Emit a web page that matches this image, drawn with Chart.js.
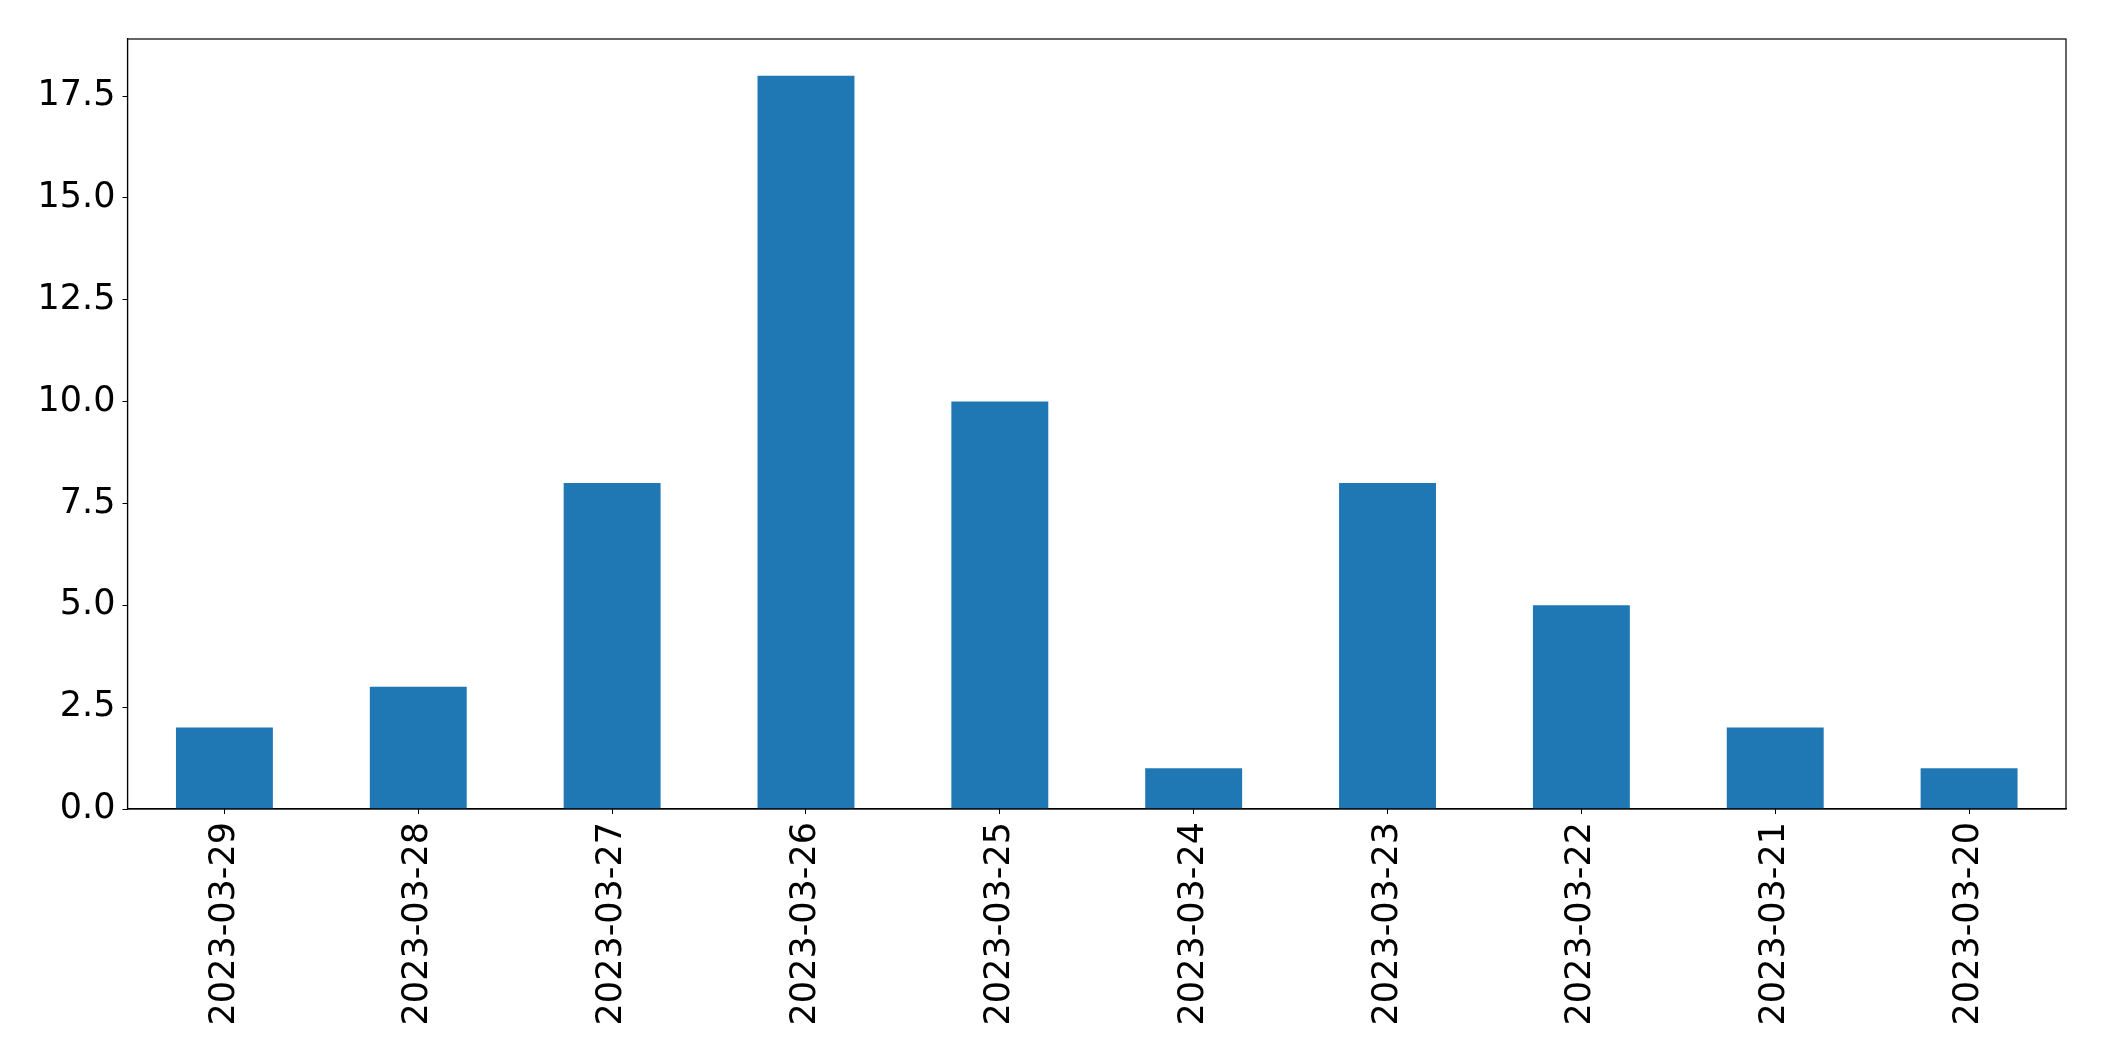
<!DOCTYPE html>
<html lang="en">
<head>
  <meta charset="UTF-8" />
  <title>Daily counts</title>
  <style>
    * {
      margin: 0;
      padding: 0;
      box-sizing: border-box;
    }

    body {
      background-color: #fff;
      width: 2104px;
      height: 1061px;
      overflow: hidden;
    }

    .chart-box {
      position: relative;
      width: 2104px;
      height: 1061px;
    }
  </style>
</head>
<body>
  <div class="chart-box">
    <canvas id="countChart"></canvas>
  </div>

  <script src="https://cdn.jsdelivr.net/npm/chart.js"></script>
  <script>
    const dates = ["2023-03-29", "2023-03-28", "2023-03-27", "2023-03-26", "2023-03-25",
                   "2023-03-24", "2023-03-23", "2023-03-22", "2023-03-21", "2023-03-20"];
    const counts = [2, 3, 8, 18, 10, 1, 8, 5, 2, 1];
    const yTicks = [0, 2.5, 5, 7.5, 10, 12.5, 15, 17.5];

    const fontSpec = { family: "'DejaVu Sans', sans-serif", size: 35 };

    // matplotlib style frame round the plot area
    const frame = {
      id: 'frame',
      afterDraw(chart) {
        const { ctx, chartArea: a } = chart;
        ctx.save();
        ctx.strokeStyle = '#000';
        ctx.lineWidth = 1.2;
        ctx.strokeRect(a.left, a.top, a.right - a.left, a.bottom - a.top);
        ctx.restore();
      }
    };

    const ctx = document.getElementById('countChart').getContext('2d');
    new Chart(ctx, {
      type: 'bar',
      data: {
        labels: dates,
        datasets: [{
          data: counts,
          backgroundColor: '#1f77b4',
          barPercentage: 0.5,
          categoryPercentage: 1.0
        }]
      },
      options: {
        responsive: true,
        maintainAspectRatio: false,
        animation: false,
        layout: {
          padding: { top: 39, right: 38, left: 0, bottom: 0 }
        },
        plugins: {
          legend: { display: false },
          tooltip: { enabled: false }
        },
        scales: {
          x: {
            grid: { display: true, offset: false, drawOnChartArea: false, drawTicks: true, tickLength: 5, color: '#000' },
            border: { display: true, color: '#000', width: 1.2 },
            ticks: {
              color: '#000',
              font: fontSpec,
              minRotation: 90,
              maxRotation: 90,
              padding: 8
            },
            afterFit(scale) { scale.height = 252; }
          },
          y: {
            min: 0,
            max: 18.9,
            grid: { display: true, drawOnChartArea: false, drawTicks: true, tickLength: 5, color: '#000' },
            border: { display: true, color: '#000', width: 1.2 },
            ticks: {
              color: '#000',
              font: fontSpec,
              padding: 7,
              callback: v => Number(v).toFixed(1)
            },
            afterBuildTicks(scale) {
              scale.ticks = yTicks.map(v => ({ value: v }));
            },
            afterFit(scale) { scale.width = 127.5; }
          }
        }
      },
      plugins: [frame]
    });
  </script>
</body>
</html>
